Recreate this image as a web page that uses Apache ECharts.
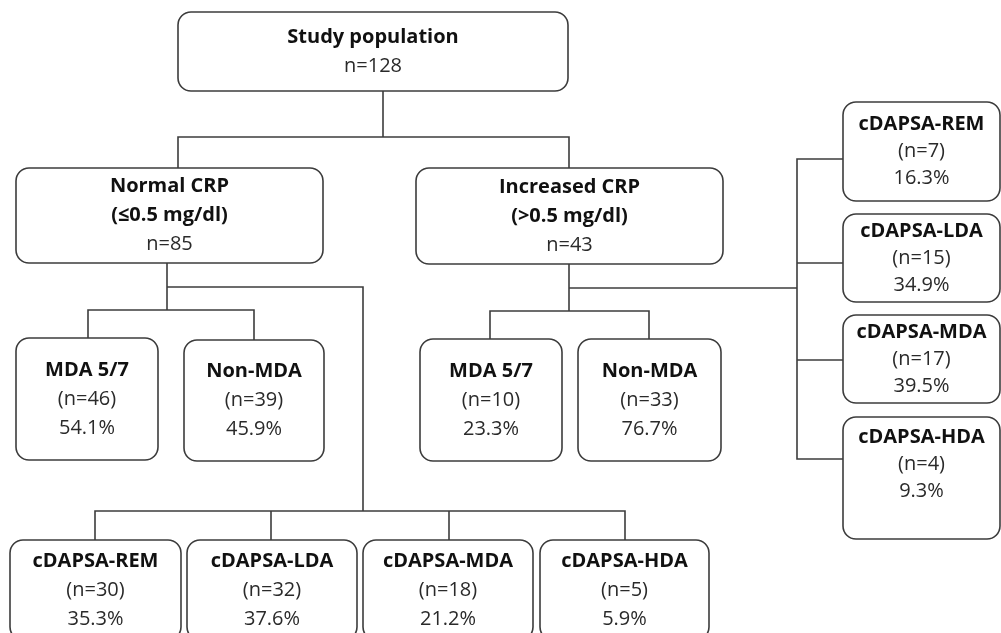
<!DOCTYPE html>
<html>
<head>
<meta charset="utf-8">
<script src="https://cdn.jsdelivr.net/npm/echarts@6/dist/echarts.min.js"></script>
<style>
html,body{margin:0;padding:0;background:#fff;}
#chart{width:1001px;height:633px;}
</style>
</head>
<body>
<div id="chart"></div>
<script>
// ---- data ----
const boxTitles = ['Study population', 'Normal CRP', 'Increased CRP',
  'MDA 5/7', 'Non-MDA', 'MDA 5/7', 'Non-MDA',
  'cDAPSA-REM', 'cDAPSA-LDA', 'cDAPSA-MDA', 'cDAPSA-HDA',
  'cDAPSA-REM', 'cDAPSA-LDA', 'cDAPSA-MDA', 'cDAPSA-HDA'];
const boxSubtitles = ['', '(≤0.5 mg/dl)', '(>0.5 mg/dl)', '', '', '', '', '', '', '', '', '', '', '', ''];
const boxN = [128, 85, 43, 46, 39, 10, 33, 30, 32, 18, 5, 7, 15, 17, 4];
const boxPct = [null, null, null, 54.1, 45.9, 23.3, 76.7, 35.3, 37.6, 21.2, 5.9, 16.3, 34.9, 39.5, 9.3];

// ---- layout (chart coordinate space, 0..1001 x 0..633) ----
const boxLayout = [
  [178, 12, 568, 91],
  [16, 168, 323, 263],
  [416, 168, 723, 264],
  [16, 338, 158, 460],
  [184, 340, 324, 461],
  [420, 339, 562, 461],
  [578, 339, 721, 461],
  [10, 540, 181, 640],
  [187, 540, 357, 640],
  [363, 540, 533, 640],
  [540, 540, 709, 640],
  [843, 102, 1000, 201],
  [843, 214, 1000, 302],
  [843, 315, 1000, 403],
  [843, 417, 1000, 539, 464]
];
const connectors = [
  [[383, 91], [383, 137]],
  [[178, 168], [178, 137], [569, 137], [569, 168]],
  [[167, 263], [167, 310]],
  [[88, 338], [88, 310], [254, 310], [254, 340]],
  [[167, 287], [363, 287], [363, 511]],
  [[95, 540], [95, 511], [625, 511], [625, 540]],
  [[271, 511], [271, 540]],
  [[449, 511], [449, 540]],
  [[569, 264], [569, 311]],
  [[490, 339], [490, 311], [649, 311], [649, 339]],
  [[569, 288], [797, 288]],
  [[843, 159], [797, 159], [797, 459], [843, 459]],
  [[797, 263], [843, 263]],
  [[797, 360], [843, 360]]
];

const FONT = '"Open Sans", "DejaVu Sans", sans-serif';

function boxLines(i) {
  const lines = [{ t: boxTitles[i], bold: true }];
  if (boxSubtitles[i]) lines.push({ t: boxSubtitles[i], bold: true });
  lines.push({ t: i < 3 ? 'n=' + boxN[i] : '(n=' + boxN[i] + ')', bold: false });
  if (boxPct[i] != null) lines.push({ t: boxPct[i].toFixed(1) + '%', bold: false });
  return lines;
}

const chart = echarts.init(document.getElementById('chart'), null, { renderer: 'canvas' });
chart.setOption({
  animation: false,
  backgroundColor: '#ffffff',
  grid: { left: 0, right: 0, top: 0, bottom: 0 },
  xAxis: { type: 'value', min: 0, max: 1001, show: false },
  yAxis: { type: 'value', min: 0, max: 633, inverse: true, show: false },
  series: [
    {
      type: 'lines',
      coordinateSystem: 'cartesian2d',
      polyline: true,
      silent: true,
      z: 1,
      lineStyle: { color: '#3c3c3c', width: 1.6, opacity: 1 },
      data: connectors.map(c => ({ coords: c }))
    },
    {
      type: 'custom',
      coordinateSystem: 'cartesian2d',
      silent: true,
      z: 2,
      data: boxLayout.map((b, i) => [b[0], b[1], b[2], b[3], i]),
      renderItem: function (params, api) {
        const i = api.value(4);
        const p0 = api.coord([api.value(0), api.value(1)]);
        const p1 = api.coord([api.value(2), api.value(3)]);
        const x = Math.min(p0[0], p1[0]), y = Math.min(p0[1], p1[1]);
        const w = Math.abs(p1[0] - p0[0]), h = Math.abs(p1[1] - p0[1]);
        const cx = x + w / 2;
        const lay = boxLayout[i];
        const cy = lay[4] != null ? api.coord([0, lay[4]])[1] : y + h / 2;
        const lh = i >= 11 ? 27 : 29;
        const lines = boxLines(i);
        const children = [{
          type: 'rect',
          shape: { x: x, y: y, width: w, height: h, r: 13 },
          style: { fill: '#ffffff', stroke: '#3c3c3c', lineWidth: 1.6 }
        }];
        lines.forEach((ln, k) => {
          children.push({
            type: 'text',
            x: cx,
            y: cy + (k - (lines.length - 1) / 2) * lh,
            style: {
              text: ln.t,
              fill: ln.bold ? '#111111' : '#2a2a2a',
              font: (ln.bold ? 'bold ' : '') + '20px ' + FONT,
              align: 'center',
              verticalAlign: 'middle'
            }
          });
        });
        return { type: 'group', children: children };
      }
    }
  ]
});
</script>
</body>
</html>
